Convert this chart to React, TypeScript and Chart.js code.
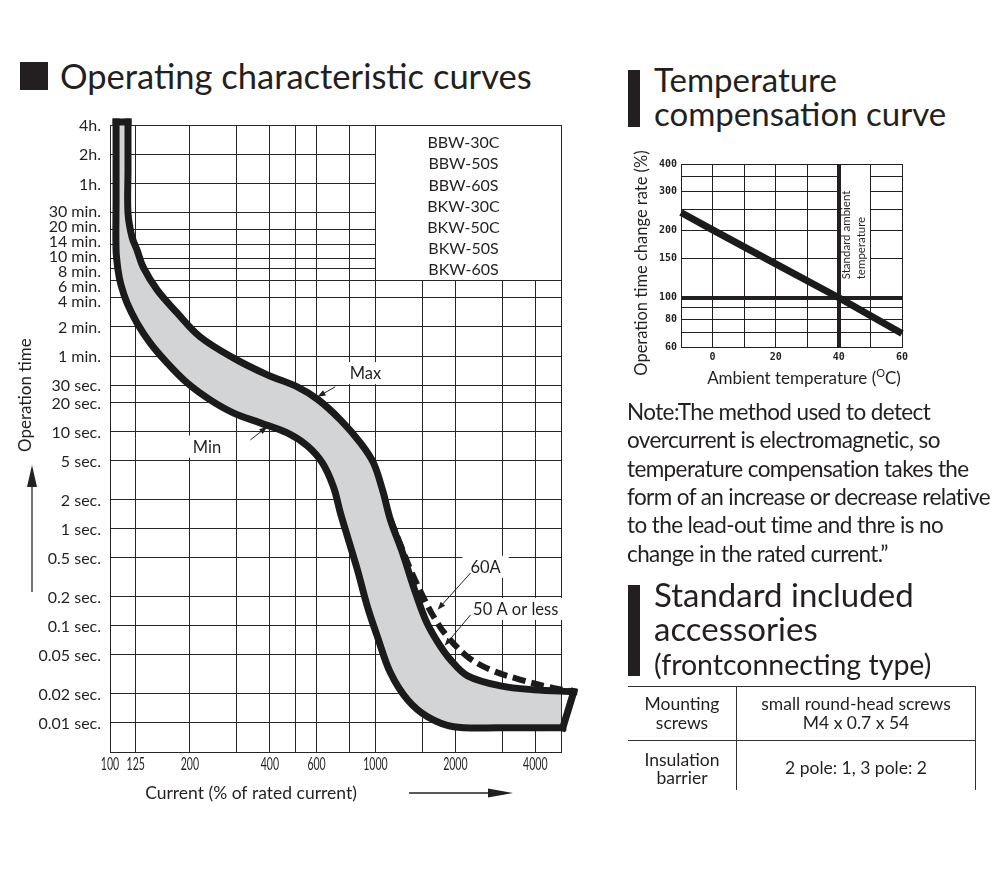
import React, { useEffect, useRef } from 'react';
import { Chart, registerables } from 'chart.js';

Chart.register(...registerables);

// ---------------- Operating characteristic curves ----------------
// x = current (% of rated current), y = operation time (seconds)
const MAX_CURRENT = [116.9, 116.9, 116.9, 121, 126.4, 133.2, 150.5, 179, 218.6, 291.2, 391.2, 507.8, 609.5, 737.9, 877.9, 982.8, 1062.7, 1139, 1265, 1391, 1544, 1714, 1919, 2224, 2963, 3947, 5587];
const MAX_TIME = [15470, 4957, 1788, 1012, 743, 497, 288, 167, 94.5, 57.4, 38.4, 28.9, 21.2, 13.2, 7.65, 4.76, 2.51, 1.23, 0.563, 0.252, 0.115, 0.0683, 0.0445, 0.0305, 0.024, 0.0219, 0.0209];

const MIN_CURRENT = [105.4, 105.4, 105.4, 107.2, 110, 115.9, 126.4, 141.6, 164.1, 195.3, 238.4, 291.2, 368.1, 465.5, 554, 631, 694.4, 737.9, 791, 855.3, 932.8, 1017.5, 1139, 1321, 1571, 1969, 2963, 5078];
const MIN_TIME = [15470, 2433, 743, 463, 324, 211.6, 131.7, 82, 51, 31.7, 21.2, 15.6, 12.3, 9.7, 7.13, 4.76, 2.7, 1.45, 0.767, 0.376, 0.157, 0.0769, 0.0327, 0.01725, 0.01153, 0.0091, 0.00888, 0.00888];

const DASH_60A_CURRENT = [1139, 1243, 1356, 1518, 1684, 1869, 2224, 2717, 3526, 4458, 5587];
const DASH_60A_TIME = [1.23, 0.681, 0.376, 0.194, 0.115, 0.0769, 0.0478, 0.0351, 0.0277, 0.0235, 0.0209];

const CURRENT_GRID = [100, 125, 200, 300, 400, 500, 600, 800, 1000, 1500, 2000, 3000, 4000, 5000];
const CURRENT_LABELS = [100, 125, 200, 400, 600, 1000, 2000, 4000];
const TIME_GRID = [0.005, 0.01, 0.02, 0.05, 0.1, 0.2, 0.5, 1, 2, 5, 10, 20, 30, 60, 120, 240, 360, 480, 600, 840, 1200, 1800, 3600, 7200, 14400];
const TIME_LABELS = ['', '0.01 sec.', '0.02 sec.', '0.05 sec.', '0.1 sec.', '0.2 sec.', '0.5 sec.', '1 sec.', '2 sec.', '5 sec.', '10 sec.', '20 sec.', '30 sec.', '1 min.', '2 min.', '4 min.', '6 min.', '8 min.', '10 min.', '14 min.', '20 min.', '30 min.', '1h.', '2h.', '4h.'];
const MODELS = ['BBW-30C', 'BBW-50S', 'BBW-60S', 'BKW-30C', 'BKW-50C', 'BKW-50S', 'BKW-60S'];

// ---------------- Temperature compensation curve ----------------
const AMBIENT_TEMP = [-10, 0, 20, 40, 60];
const TIME_CHANGE_RATE = [242, 202, 142, 100, 69];
const TEMP_GRID = [-10, 0, 10, 20, 30, 40, 50, 60];
const TEMP_LABELS = [0, 20, 40, 60];
const RATE_GRID = [60, 70, 80, 90, 100, 150, 200, 250, 300, 350, 400];
const RATE_LABELS = [60, 80, 100, 150, 200, 300, 400];
const STANDARD_TEMP = 40;
const STANDARD_RATE = 100;
const STANDARD_NOTE = ['Standard ambient', 'temperature'];

// annotation config (data space)
const LEGEND_PANEL = { current: [1000, 5000], time: [360, 14400] };
const CALLOUTS = [
  { text: 'Max', label: [917, 40], tail: [706, 28.9], head: [605, 22.8] },
  { text: 'Min', label: [232, 7.0], tail: [338, 8.2], head: [391, 11.2] },
  { text: '60A', label: [2600, 0.404], tail: [2283, 0.35], head: [1714, 0.146] },
  { text: '50 A or less', label: [3376, 0.149], tail: [2283, 0.1295], head: [1821, 0.0621] },
];

const FONT = "Lato, 'Open Sans', sans-serif";
const INK = '#231f20';
const BAND = 'rgb(211,212,214)';

const pts = (xs: number[], ys: number[]) => xs.map((x, i) => ({ x, y: ys[i] }));

function drawArrow(ctx: CanvasRenderingContext2D, x1: number, y1: number, x2: number, y2: number, head = 8, half = 3) {
  const a = Math.atan2(y2 - y1, x2 - x1);
  const c = Math.cos(a), s = Math.sin(a);
  ctx.beginPath();
  ctx.moveTo(x1, y1);
  ctx.lineTo(x2 - c * head * 0.8, y2 - s * head * 0.8);
  ctx.stroke();
  ctx.beginPath();
  ctx.moveTo(x2, y2);
  ctx.lineTo(x2 - c * head - s * half, y2 - s * head + c * half);
  ctx.lineTo(x2 - c * head + s * half, y2 - s * head - c * half);
  ctx.closePath();
  ctx.fill();
}

// push crowded label positions apart so neighbours keep a minimum gap
function spread(ps: number[], gap: number) {
  const out = ps.slice();
  for (let it = 0; it < 400; it++) {
    let moved = false;
    for (let i = 0; i < out.length - 1; i++) {
      const d = out[i + 1] - out[i];
      if (d < gap - 0.01) {
        const push = (gap - d) / 2;
        out[i] -= push;
        out[i + 1] += push;
        moved = true;
      }
    }
    if (!moved) break;
  }
  return out;
}

const mainDecor = {
  id: 'mainDecor',
  beforeDatasetsDraw(chart: any) {
    const { ctx } = chart;
    const x = chart.scales.x, y = chart.scales.y;
    ctx.save();
    const l = Math.round(x.getPixelForValue(LEGEND_PANEL.current[0]) - 0.5) + 1;
    const r = Math.round(x.getPixelForValue(LEGEND_PANEL.current[1]) - 0.5);
    const t = Math.round(y.getPixelForValue(LEGEND_PANEL.time[1]) - 0.5) + 1;
    const b = Math.round(y.getPixelForValue(LEGEND_PANEL.time[0]) - 0.5);
    ctx.fillStyle = '#fff';
    ctx.fillRect(l, t, r - l, b - t);
    ctx.fillStyle = INK;
    ctx.font = `16px ${FONT}`;
    ctx.textAlign = 'center';
    ctx.textBaseline = 'middle';
    MODELS.forEach((m, i) => ctx.fillText(m, (l + r) / 2 - 5, t + 17 + i * 21.2));
    ctx.font = `16.5px ${FONT}`;
    CALLOUTS.forEach((c) => {
      const cx = x.getPixelForValue(c.label[0]);
      const cy = y.getPixelForValue(c.label[1]);
      const w = ctx.measureText(c.text).width + 16;
      ctx.fillStyle = '#fff';
      ctx.fillRect(cx - w / 2, cy - 11, w, 22);
      ctx.fillStyle = INK;
      ctx.fillText(c.text, cx, cy + 1);
    });
    ctx.restore();
  },
  afterDatasetsDraw(chart: any) {
    const { ctx } = chart;
    const x = chart.scales.x, y = chart.scales.y;
    ctx.save();
    ctx.strokeStyle = INK;
    ctx.fillStyle = INK;
    ctx.lineWidth = 1;
    CALLOUTS.forEach((c) => {
      drawArrow(ctx, x.getPixelForValue(c.tail[0]), y.getPixelForValue(c.tail[1]), x.getPixelForValue(c.head[0]), y.getPixelForValue(c.head[1]));
    });
    ctx.restore();
  },
  afterDraw(chart: any) {
    const { ctx, chartArea } = chart;
    const x = chart.scales.x, y = chart.scales.y;
    ctx.save();
    ctx.fillStyle = INK;

    // y tick labels (crowded minute labels spread apart like the original)
    const labelled = TIME_GRID.map((v, i) => ({ p: y.getPixelForValue(v), t: TIME_LABELS[i] })).filter((d) => d.t);
    labelled.sort((a, b) => a.p - b.p);
    const ys = spread(labelled.map((d) => d.p), 15);
    ctx.font = `16px ${FONT}`;
    ctx.textAlign = 'right';
    ctx.textBaseline = 'middle';
    labelled.forEach((d, i) => ctx.fillText(d.t, chartArea.left - 9, ys[i] + 1));

    // x tick labels in a condensed face
    ctx.font = `17px ${FONT}`;
    ctx.textAlign = 'center';
    CURRENT_LABELS.forEach((v) => {
      ctx.save();
      ctx.translate(x.getPixelForValue(v), chartArea.bottom + 13);
      ctx.scale(0.62, 1);
      ctx.fillText(String(v), 0, 0);
      ctx.restore();
    });

    // y title
    ctx.font = `17px ${FONT}`;
    ctx.save();
    ctx.translate(26, 352);
    ctx.rotate(-Math.PI / 2);
    ctx.textAlign = 'left';
    ctx.textBaseline = 'middle';
    ctx.fillText('Operation time', 0, 0);
    ctx.restore();
    // y arrow
    ctx.strokeStyle = '#444';
    ctx.fillStyle = '#222';
    ctx.lineWidth = 1.5;
    drawArrow(ctx, 32, 492, 32, 365, 22, 5);
    // x title
    ctx.fillStyle = INK;
    ctx.font = `17.5px ${FONT}`;
    ctx.textAlign = 'center';
    ctx.textBaseline = 'middle';
    ctx.fillText('Current (% of rated current)', 251, 693);
    ctx.strokeStyle = '#222';
    ctx.lineWidth = 1.3;
    drawArrow(ctx, 409, 693, 513, 693, 25, 4.5);
    ctx.restore();
  },
};

const tempDecor = {
  id: 'tempDecor',
  beforeDatasetsDraw(chart: any) {
    const { ctx, chartArea } = chart;
    const x = chart.scales.x, y = chart.scales.y;
    const p40 = x.getPixelForValue(STANDARD_TEMP);
    const l = Math.round(p40) + 2;
    const r = Math.round(x.getPixelForValue(STANDARD_TEMP + 10) - 0.5);
    const t = Math.round(chartArea.top - 0.5) + 1;
    const b = y.getPixelForValue(115);
    ctx.save();
    ctx.fillStyle = '#fff';
    ctx.fillRect(l, t, r - l, b - t);
    ctx.fillStyle = INK;
    ctx.font = `11.5px ${FONT}`;
    ctx.textAlign = 'left';
    ctx.textBaseline = 'middle';
    STANDARD_NOTE.forEach((line, i) => {
      ctx.save();
      ctx.translate(p40 + 7 + i * 15, b - 5);
      ctx.rotate(-Math.PI / 2);
      ctx.fillText(line, 0, 0);
      ctx.restore();
    });
    ctx.restore();
  },
  afterDraw(chart: any) {
    const { ctx } = chart;
    ctx.save();
    ctx.fillStyle = INK;
    ctx.font = `16.5px ${FONT}`;
    ctx.save();
    ctx.translate(22, 113);
    ctx.rotate(-Math.PI / 2);
    ctx.textAlign = 'center';
    ctx.textBaseline = 'middle';
    ctx.fillText('Operation time change rate (%)', 0, 0);
    ctx.restore();
    // x title with superscript O
    const big = `17px ${FONT}`, small = `11px ${FONT}`;
    const p1 = 'Ambient temperature (', p2 = 'O', p3 = 'C)';
    ctx.font = big; const w1 = ctx.measureText(p1).width; const w3 = ctx.measureText(p3).width;
    ctx.font = small; const w2 = ctx.measureText(p2).width;
    let sx = 184 - (w1 + w2 + w3) / 2;
    const base = 234;
    ctx.textAlign = 'left';
    ctx.textBaseline = 'alphabetic';
    ctx.font = big; ctx.fillText(p1, sx, base); sx += w1;
    ctx.font = small; ctx.fillText(p2, sx, base - 7); sx += w2;
    ctx.font = big; ctx.fillText(p3, sx, base);
    ctx.restore();
  },
};

function Text(props: { x: number; baseline: number; size: number; children: any; align?: string; spacing?: number }) {
  const { x, baseline, size, children, align = 'left', spacing = 0 } = props;
  const style: any = {
    position: 'absolute',
    top: baseline - 0.987 * size,
    fontSize: size,
    lineHeight: `${1.2 * size}px`,
    whiteSpace: 'nowrap',
    letterSpacing: spacing,
  };
  if (align === 'center') {
    style.left = x - 200;
    style.width = 400;
    style.textAlign = 'center';
  } else {
    style.left = x;
  }
  return <div style={style}>{children}</div>;
}

const Box = (p: { x: number; y: number; w: number; h: number; c?: string }) => (
  <div style={{ position: 'absolute', left: p.x, top: p.y, width: p.w, height: p.h, background: p.c || INK }} />
);

export default function App() {
  const mainRef = useRef<HTMLCanvasElement>(null);
  const tempRef = useRef<HTMLCanvasElement>(null);

  useEffect(() => {
    const gridColor = '#262626';
    const band = [...pts(MIN_CURRENT, MIN_TIME), ...pts(MAX_CURRENT, MAX_TIME).reverse()];
    const capLine = [
      { x: MIN_CURRENT[0], y: MIN_TIME[0] },
      { x: MAX_CURRENT[0], y: MAX_TIME[0] },
    ];
    const endLine = [
      { x: MIN_CURRENT[MIN_CURRENT.length - 1], y: MIN_TIME[MIN_TIME.length - 1] },
      { x: MAX_CURRENT[MAX_CURRENT.length - 1], y: MAX_TIME[MAX_TIME.length - 1] },
    ];
    const lineBase = {
      showLine: true,
      pointRadius: 0,
      borderColor: '#1b1b1b',
      borderWidth: 7,
      clip: false as any,
      fill: false,
      borderJoinStyle: 'round' as const,
      borderCapStyle: 'square' as const,
    };

    const main = new Chart(mainRef.current!, {
      type: 'scatter',
      data: {
        datasets: [
          { ...lineBase, data: pts(DASH_60A_CURRENT, DASH_60A_TIME), tension: 0.35, borderWidth: 6, borderDash: [13, 6], borderCapStyle: 'butt' },
          { ...lineBase, data: pts(MAX_CURRENT, MAX_TIME), tension: 0.35 },
          { ...lineBase, data: pts(MIN_CURRENT, MIN_TIME), tension: 0.35 },
          { ...lineBase, data: capLine, tension: 0 },
          { ...lineBase, data: endLine, tension: 0 },
          { showLine: true, pointRadius: 0, borderWidth: 0, data: band, tension: 0.35, fill: 'shape', backgroundColor: BAND, borderColor: 'rgba(0,0,0,0)' },
        ] as any,
      },
      options: {
        animation: false,
        responsive: false,
        maintainAspectRatio: false,
        events: [],
        layout: { padding: { top: 25, right: 39, left: 0, bottom: 0 } },
        plugins: { legend: { display: false }, tooltip: { enabled: false } },
        scales: {
          x: {
            type: 'logarithmic',
            min: 100,
            max: 5000,
            afterBuildTicks: (s: any) => { s.ticks = CURRENT_GRID.map((v) => ({ value: v })); },
            afterFit: (s: any) => { s.height = 68; },
            grid: { color: gridColor, lineWidth: 1, drawTicks: false },
            border: { color: gridColor, width: 1 },
            ticks: { display: false, autoSkip: false },
          },
          y: {
            type: 'logarithmic',
            min: 0.005,
            max: 14400,
            afterBuildTicks: (s: any) => { s.ticks = TIME_GRID.map((v) => ({ value: v })); },
            afterFit: (s: any) => { s.width = 110; },
            grid: { color: gridColor, lineWidth: 1, drawTicks: false },
            border: { color: gridColor, width: 1 },
            ticks: { display: false, autoSkip: false },
          },
        },
      } as any,
      plugins: [mainDecor],
    });

    const temp = new Chart(tempRef.current!, {
      type: 'scatter',
      data: {
        datasets: [
          {
            data: pts(AMBIENT_TEMP, TIME_CHANGE_RATE),
            showLine: true,
            pointRadius: 0,
            borderColor: '#1b1b1b',
            borderWidth: 7,
            tension: 0,
            clip: false,
          },
        ] as any,
      },
      options: {
        animation: false,
        responsive: false,
        maintainAspectRatio: false,
        events: [],
        layout: { padding: { top: 14, right: 18, left: 0, bottom: 0 } },
        plugins: { legend: { display: false }, tooltip: { enabled: false } },
        scales: {
          x: {
            type: 'linear',
            min: -10,
            max: 60,
            afterBuildTicks: (s: any) => { s.ticks = TEMP_GRID.map((v) => ({ value: v })); },
            afterFit: (s: any) => { s.height = 53; },
            grid: { color: INK, drawTicks: false, lineWidth: (c: any) => (c.tick && c.tick.value === STANDARD_TEMP ? 4 : 1) },
            border: { color: INK, width: 1 },
            ticks: {
              autoSkip: false,
              maxRotation: 0,
              padding: 4,
              color: INK,
              font: { family: "'DejaVu Sans Mono', monospace", size: 10, weight: 'bold' },
              callback: (v: any) => (TEMP_LABELS.includes(Number(v)) ? String(v) : ''),
            },
          },
          y: {
            type: 'logarithmic',
            min: 60,
            max: 400,
            afterBuildTicks: (s: any) => { s.ticks = RATE_GRID.map((v) => ({ value: v })); },
            afterFit: (s: any) => { s.width = 61; },
            grid: { color: INK, drawTicks: false, lineWidth: (c: any) => (c.tick && c.tick.value === STANDARD_RATE ? 4 : 1) },
            border: { color: INK, width: 1 },
            ticks: {
              autoSkip: false,
              padding: 4,
              color: INK,
              font: { family: "'DejaVu Sans Mono', monospace", size: 10, weight: 'bold' },
              callback: (v: any) => (RATE_LABELS.includes(Number(v)) ? String(v) : ''),
            },
          },
        },
      } as any,
      plugins: [tempDecor],
    });

    return () => {
      main.destroy();
      temp.destroy();
    };
  }, []);

  return (
    <div style={{ position: 'absolute', left: 0, top: 0, width: 1000, height: 889, background: '#fff', color: INK, fontFamily: FONT, overflow: 'hidden' }}>
      {/* main title */}
      <Box x={20} y={62} w={28} h={28} />
      <Text x={60} baseline={89} size={34.5}>Operating characteristic curves</Text>
      <canvas ref={mainRef} width={600} height={720} style={{ position: 'absolute', left: 0, top: 100, width: 600, height: 720 }} />

      {/* temperature compensation */}
      <Box x={628} y={70} w={12} h={57} />
      <Text x={654} baseline={93} size={33}>Temperature</Text>
      <Text x={654} baseline={127} size={33}>compensation curve</Text>
      <canvas ref={tempRef} width={300} height={250} style={{ position: 'absolute', left: 620, top: 150, width: 300, height: 250 }} />

      {/* note */}
      <Text x={627} baseline={420} size={22.5} spacing={-0.6}>Note:The method used to detect</Text>
      <Text x={627} baseline={448.4} size={22.5} spacing={-0.6}>overcurrent is electromagnetic, so</Text>
      <Text x={627} baseline={476.8} size={22.5} spacing={-0.6}>temperature compensation takes the</Text>
      <Text x={627} baseline={505.2} size={22.5} spacing={-0.6}>form of an increase or decrease relative</Text>
      <Text x={627} baseline={533.6} size={22.5} spacing={-0.6}>to the lead-out time and thre is no</Text>
      <Text x={627} baseline={562} size={22.5} spacing={-0.6}>change in the rated current.”</Text>

      {/* accessories */}
      <Box x={628} y={585} w={12} h={91} />
      <Text x={654} baseline={608} size={33}>Standard included</Text>
      <Text x={654} baseline={642} size={33}>accessories</Text>
      <Text x={654} baseline={675} size={28.5}>(frontconnecting type)</Text>

      {/* table */}
      <Box x={628} y={686} w={348} h={1} c="#333" />
      <Box x={628} y={740} w={348} h={1} c="#333" />
      <Box x={736} y={686} w={1} h={104} c="#333" />
      <Box x={975} y={686} w={1} h={104} c="#333" />
      <Text x={682} baseline={710} size={17.5} align="center">Mounting</Text>
      <Text x={682} baseline={729} size={17.5} align="center">screws</Text>
      <Text x={856} baseline={710} size={17.5} align="center">small round-head screws</Text>
      <Text x={856} baseline={729} size={17.5} align="center">M4 x 0.7 x 54</Text>
      <Text x={682} baseline={766} size={17.5} align="center">Insulation</Text>
      <Text x={682} baseline={784} size={17.5} align="center">barrier</Text>
      <Text x={856} baseline={774} size={17.5} align="center">2 pole: 1, 3 pole: 2</Text>
    </div>
  );
}
